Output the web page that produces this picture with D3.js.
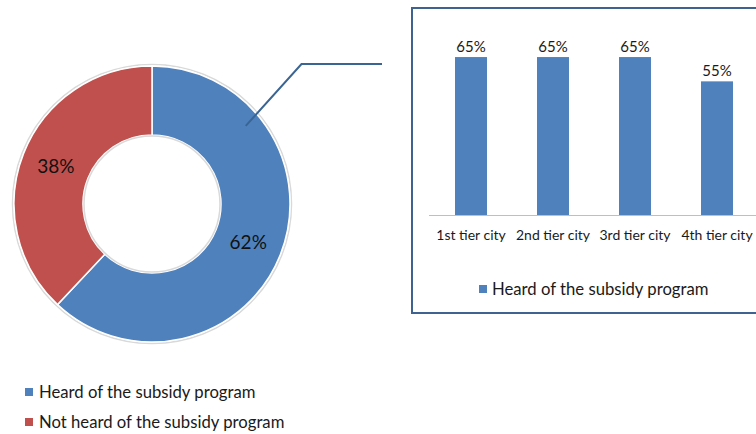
<!doctype html>
<html>
<head>
<meta charset="utf-8">
<script src="https://d3js.org/d3.v7.min.js"></script>
<style>
  body { margin: 0; background: #fff; }
  text { font-family: Lato, "Open Sans", sans-serif; fill: #1a1a1a; }
</style>
</head>
<body>
<svg width="756" height="434"></svg>
<script>
// donut data
var pieLabels = ["Heard of the subsidy program", "Not heard of the subsidy program"];
var pieValues = [62, 38];
var pieColors = ["#4f81bd", "#c0504d"];

// bar data
var cities = ["1st tier city", "2nd tier city", "3rd tier city", "4th tier city"];
var heardValues = [65, 65, 65, 55];

var svg = d3.select("svg");

// ---- donut ----
var cx = 152, cy = 204, rOut = 138, rIn = 69;
var pie = d3.pie().sort(null).value(function(d) { return d; });
var arc = d3.arc().innerRadius(rIn).outerRadius(rOut);
var arcs = pie(pieValues);

var dg = svg.append("g").attr("transform", "translate(" + cx + "," + cy + ")");

dg.append("circle").attr("r", rOut + 1.5).attr("fill", "none")
  .attr("stroke", "#d9d9d9").attr("stroke-width", 1.5);

dg.selectAll("path.slice")
  .data(arcs)
  .enter().append("path")
  .attr("class", "slice")
  .attr("d", arc)
  .attr("fill", function(d, i) { return pieColors[i]; })
  .attr("stroke", "#fff")
  .attr("stroke-width", 1.5);

dg.append("circle").attr("r", rIn - 1).attr("fill", "none")
  .attr("stroke", "#d9d9d9").attr("stroke-width", 1.5);

dg.selectAll("text.pl")
  .data(arcs)
  .enter().append("text")
  .attr("class", "pl")
  .attr("transform", function(d) { return "translate(" + arc.centroid(d) + ")"; })
  .attr("text-anchor", "middle")
  .attr("dy", "0.35em")
  .style("font-size", "19px")
  .style("fill", "#111")
  .text(function(d) { return d.data + "%"; });

// connector from blue slice to bar panel
var ang = arcs[0].startAngle + (arcs[0].endAngle - arcs[0].startAngle) * 0.225;
var r0 = 122;
var p0 = [cx + Math.sin(ang) * r0, cy - Math.cos(ang) * r0];
var elbowY = 64;
var p1 = [p0[0] + (p0[1] - elbowY) * 0.9, elbowY];
svg.append("polyline")
  .attr("points", [p0, p1, [382, elbowY]].map(function(p) { return p.join(","); }).join(" "))
  .attr("fill", "none")
  .attr("stroke", "#3a6593")
  .attr("stroke-width", 2);

// donut legend
var lg = svg.append("g");
pieLabels.forEach(function(t, i) {
  var y = 392 + i * 30;
  lg.append("rect").attr("x", 25).attr("y", y - 4).attr("width", 8).attr("height", 8)
    .attr("fill", pieColors[i]);
  lg.append("text").attr("x", 39).attr("y", y).attr("dy", "0.35em")
    .style("font-size", "16.7px").text(t);
});

// ---- bar panel ----
svg.append("rect")
  .attr("x", 412).attr("y", 8).attr("width", 360).attr("height", 305)
  .attr("fill", "#fff").attr("stroke", "#3f6390").attr("stroke-width", 2);

var x = d3.scaleBand().domain(cities).range([430, 758]).paddingInner(0.61).paddingOuter(0.305);
var y = d3.scaleLinear().domain([0, 70]).range([215, 215 - 0.7 * 243]);

var xAxis = svg.append("g").attr("transform", "translate(0,215)")
  .call(d3.axisBottom(x).tickSize(0).tickPadding(15));
xAxis.select(".domain").attr("stroke", "#bfbfbf").attr("d", "M429,0.5H760");
xAxis.selectAll("text").style("font-size", "14px").attr("fill", "#1a1a1a")
  .style("font-family", "Lato, 'Open Sans', sans-serif");

svg.selectAll("rect.bar")
  .data(heardValues)
  .enter().append("rect")
  .attr("class", "bar")
  .attr("x", function(d, i) { return x(cities[i]); })
  .attr("y", function(d) { return y(d); })
  .attr("width", x.bandwidth())
  .attr("height", function(d) { return y(0) - y(d); })
  .attr("fill", "#4f81bd");

svg.selectAll("text.bv")
  .data(heardValues)
  .enter().append("text")
  .attr("class", "bv")
  .attr("x", function(d, i) { return x(cities[i]) + x.bandwidth() / 2; })
  .attr("y", function(d) { return y(d) - 5; })
  .attr("text-anchor", "middle")
  .style("font-size", "15px")
  .text(function(d) { return d + "%"; });

svg.append("rect").attr("x", 479).attr("y", 285).attr("width", 8).attr("height", 8)
  .attr("fill", "#4f81bd");
svg.append("text").attr("x", 492).attr("y", 289).attr("dy", "0.35em")
  .style("font-size", "16.7px").text(pieLabels[0]);
</script>
</body>
</html>
